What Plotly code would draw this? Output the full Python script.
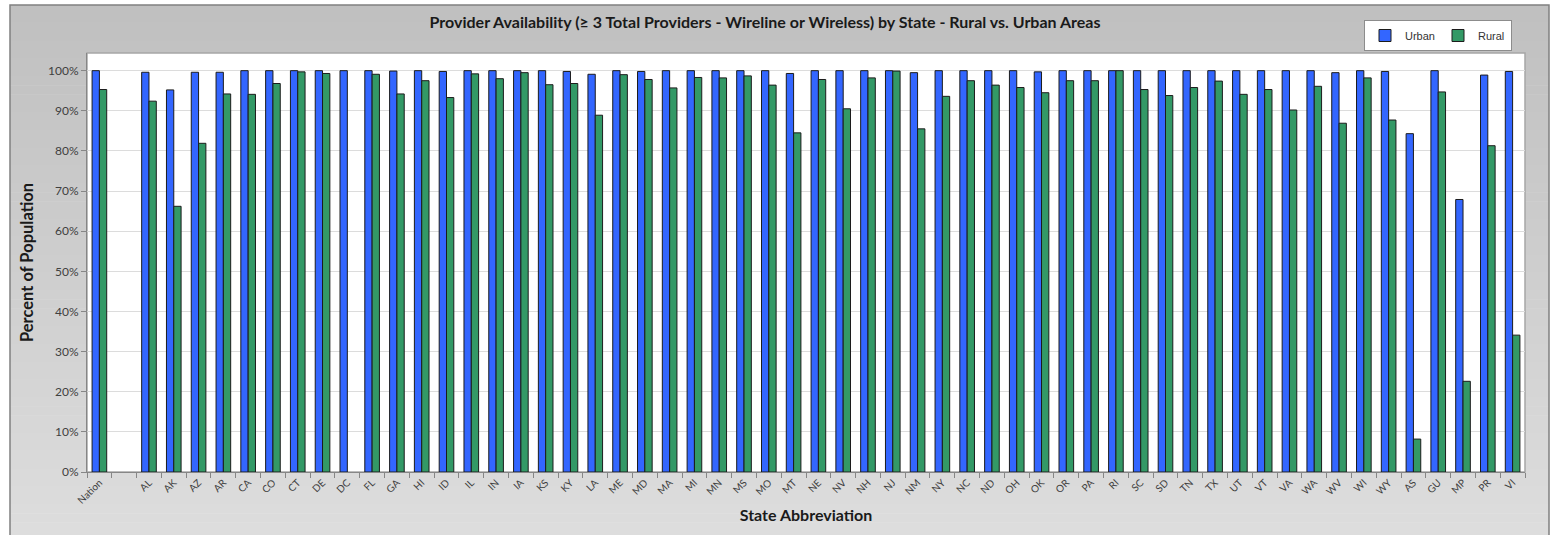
import plotly.graph_objects as go

categories = ["Nation", " ", "AL", "AK", "AZ", "AR", "CA", "CO", "CT", "DE", "DC", "FL", "GA", "HI", "ID",
              "IL", "IN", "IA", "KS", "KY", "LA", "ME", "MD", "MA", "MI", "MN", "MS", "MO", "MT", "NE",
              "NV", "NH", "NJ", "NM", "NY", "NC", "ND", "OH", "OK", "OR", "PA", "RI", "SC", "SD", "TN",
              "TX", "UT", "VT", "VA", "WA", "WV", "WI", "WY", "AS", "GU", "MP", "PR", "VI"]

urban = [100.0, None, 99.6, 95.2, 99.6, 99.6, 100.0, 100.0, 100.0, 100.0, 100.0, 100.0, 99.9, 100.0, 99.8,
         100.0, 100.0, 100.0, 100.0, 99.8, 99.1, 100.0, 99.8, 100.0, 100.0, 100.0, 100.0, 100.0, 99.3, 100.0,
         100.0, 100.0, 100.0, 99.5, 100.0, 100.0, 100.0, 100.0, 99.7, 100.0, 100.0, 100.0, 100.0, 100.0, 100.0,
         100.0, 100.0, 100.0, 100.0, 100.0, 99.5, 100.0, 99.8, 84.3, 100.0, 67.9, 98.9, 99.8]

rural = [95.3, None, 92.4, 66.2, 81.9, 94.2, 94.1, 96.8, 99.7, 99.3, None, 99.1, 94.2, 97.5, 93.3,
         99.2, 98.0, 99.5, 96.5, 96.8, 88.9, 99.0, 97.8, 95.7, 98.3, 98.2, 98.7, 96.4, 84.5, 97.8,
         90.5, 98.2, 99.9, 85.5, 93.6, 97.5, 96.4, 95.8, 94.5, 97.5, 97.5, 100.0, 95.3, 93.8, 95.8,
         97.4, 94.1, 95.3, 90.2, 96.1, 86.9, 98.2, 87.7, 8.2, 94.7, 22.6, 81.3, 34.1]

y_ticks = list(range(0, 101, 10))
y_tick_labels = [f"{v}%" for v in y_ticks]

W, H = 1553, 535
L, R, T, B = 87, 28, 53, 63
pw, ph = W - L - R, H - T - B


def px_x(x):
    return (x - L) / pw


def px_y(y):
    return (H - B - y) / ph


fig = go.Figure()
fig.add_trace(go.Bar(x=categories, y=urban, name="Urban",
                     marker=dict(color="#3366ff", line=dict(color="#1c1c1c", width=1))))
fig.add_trace(go.Bar(x=categories, y=rural, name="Rural",
                     marker=dict(color="#339966", line=dict(color="#1c1c1c", width=1))))

shapes = []
# gradient background inside chart border
n = 60
top_y, bot_y = 5, 540
c0, c1 = 0xC0, 0xDD
for i in range(n):
    ya = top_y + (bot_y - top_y) * i / n
    yb = top_y + (bot_y - top_y) * (i + 1) / n + 0.6
    c = round(c0 + (c1 - c0) * i / (n - 1))
    col = f"rgb({c},{c},{c})"
    shapes.append(dict(type="rect", xref="paper", yref="paper", layer="below",
                       x0=px_x(10), x1=px_x(1549), y0=px_y(yb), y1=px_y(ya),
                       fillcolor=col, line=dict(width=0)))
# outer border
shapes.append(dict(type="rect", xref="paper", yref="paper", layer="below",
                   x0=px_x(10), x1=px_x(1549), y0=px_y(545), y1=px_y(5),
                   fillcolor="rgba(0,0,0,0)", line=dict(color="#808080", width=1.5)))
# white plot area with grey frame
shapes.append(dict(type="rect", xref="paper", yref="paper", layer="below",
                   x0=0, x1=1, y0=0, y1=1, fillcolor="white",
                   line=dict(color="#a6a6a6", width=1.5)))

fig.update_layout(
    width=W, height=H,
    margin=dict(l=L, r=R, t=T, b=B, pad=0, autoexpand=False),
    paper_bgcolor="white",
    plot_bgcolor="rgba(0,0,0,0)",
    shapes=shapes,
    barmode="group",
    bargap=0.41,
    bargroupgap=0,
    font=dict(family="Lato, 'Open Sans', sans-serif", color="#404040"),
    title=dict(text="<b>Provider Availability (≥ 3 Total Providers - Wireline or Wireless) by State - Rural vs. Urban Areas</b>",
               x=765 / W, xref="container", xanchor="center",
               y=1 - 22 / H, yref="container", yanchor="middle",
               font=dict(family="Lato, 'Open Sans', sans-serif", size=16, color="#1a1a1a")),
    legend=dict(orientation="h", x=px_x(1512), y=px_y(20), xanchor="right", yanchor="top",
                bgcolor="white", bordercolor="#8c8c8c", borderwidth=1,
                font=dict(family="Liberation Sans, Arial, sans-serif", size=11, color="#333333"),
                itemwidth=30, traceorder="normal",
                tracegroupgap=0, entrywidth=28, entrywidthmode="pixels"),
    xaxis=dict(
        type="category",
        automargin=False,
        tickangle=-45,
        tickson="boundaries",
        ticks="outside", ticklen=5, tickcolor="#868686",
        showline=True, linecolor="#868686", linewidth=1,
        tickfont=dict(family="Lato, 'Open Sans', sans-serif", size=10, color="#404040"),
        title=dict(text="<b>State Abbreviation</b>", standoff=4,
                   font=dict(family="Lato, 'Open Sans', sans-serif", size=16, color="#1a1a1a")),
        showgrid=False,
    ),
    yaxis=dict(
        range=[0, 104.4],
        automargin=False,
        tickvals=y_ticks, ticktext=y_tick_labels,
        ticks="outside", ticklen=5, tickcolor="#868686",
        showline=True, linecolor="#868686", linewidth=1,
        showgrid=True, gridcolor="#dcdcdc", gridwidth=1,
        zeroline=False,
        tickfont=dict(family="Lato, 'Open Sans', sans-serif", size=12, color="#404040"),
        title=dict(text="<b>Percent of Population</b>", standoff=10,
                   font=dict(family="Lato, 'Open Sans', sans-serif", size=16.5, color="#1a1a1a")),
    ),
)

fig.write_html("out.html", config={"displayModeBar": False},
               post_script="document.body.style.margin='0';")
